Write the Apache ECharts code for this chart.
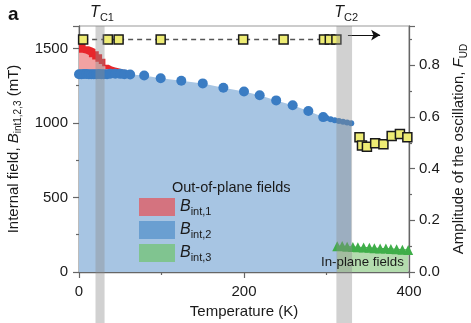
<!DOCTYPE html>
<html><head><meta charset="utf-8">
<script src="https://cdn.jsdelivr.net/npm/echarts@6/dist/echarts.min.js"></script>
<style>html,body{margin:0;padding:0;background:#fff}#c{width:471px;height:323px}</style>
</head><body><div id="c"></div>
<script>
// ---- data ----
const T_red = [0, 4, 8, 12, 16, 20, 24, 28, 32, 36, 40, 44, 48, 52, 56];
const B_red_hi = [1535, 1535, 1515, 1505, 1495, 1480, 1460, 1430, 1390, 1378, 1372, 1366, 1360, 1355, 1350];
const B_red_lo = [1470, 1465, 1455, 1440, 1425, 1410, 1395, 1380, 1362, 1350, 1344, 1340, 1336, 1333, 1330];

const T_blue = [0, 3, 6, 9, 12, 15, 18, 21, 24, 27, 30, 34, 38, 44, 50, 55, 62, 79, 99, 124, 150, 175, 200, 219, 239, 259, 278, 296, 300, 305, 310, 315, 320, 325, 330];
const B_blue = [1326, 1327, 1328, 1328, 1327, 1327, 1327, 1327, 1328, 1327, 1326, 1327, 1330, 1330, 1329, 1327, 1325, 1318, 1300, 1283, 1265, 1236, 1211, 1185, 1151, 1118, 1080, 1039, 1033, 1025, 1018, 1012, 1007, 1002, 997];

const T_green = [313, 319, 325, 332, 338, 345, 352, 358, 365, 372, 378, 385, 392, 399];
const B_green = [172, 175, 170, 168, 166, 165, 162, 160, 158, 157, 155, 153, 150, 148];

const T_F1 = [5, 35, 48, 99, 199, 248, 297, 304, 312];
const F_F1 = [0.9, 0.9, 0.9, 0.9, 0.9, 0.9, 0.9, 0.9, 0.9];
const T_F2 = [340, 343, 349, 359, 369, 379, 389, 398];
const F_F2 = [0.521, 0.49, 0.485, 0.498, 0.494, 0.526, 0.534, 0.521];

const bands = [[20, 31, 'C1'], [312, 331, 'C2']];
const arrowT = [326, 365];
const arrowF = 0.917;

const zip = (a, b) => a.map((v, i) => [v, b[i]]);
const FONT = 'Liberation Sans';
const sub = {
  b: {fontStyle: 'italic', fontSize: 15, fontFamily: FONT, color: '#1a1a1a', lineHeight: 20, verticalAlign: 'middle'},
  s: {fontSize: 10, fontFamily: FONT, color: '#1a1a1a', lineHeight: 10, verticalAlign: 'bottom'},
  n: {fontSize: 15, fontFamily: FONT, color: '#1a1a1a', lineHeight: 20, verticalAlign: 'middle'}
};

const chart = echarts.init(document.getElementById('c'), null, {renderer: 'canvas'});
const axisCommon = {
  axisLine: {show: true, lineStyle: {color: '#666', width: 1.3}},
  axisTick: {show: true, inside: false, length: 6, lineStyle: {color: '#666', width: 1.2}},
  minorTick: {show: true, splitNumber: 2, length: 3, lineStyle: {color: '#666', width: 1.2}},
  splitLine: {show: false},
  axisLabel: {fontFamily: FONT, fontSize: 15, color: '#1a1a1a'}
};

chart.setOption({
  animation: false,
  grid: [
    {left: 79, right: 62, top: 26, bottom: 51, containLabel: false, outerBoundsMode: 'none',
     show: true, borderColor: '#999', borderWidth: 1, backgroundColor: 'transparent'},
    {left: 79, right: 62, top: 26, bottom: 0, containLabel: false, outerBoundsMode: 'none', show: false}
  ],
  xAxis: [
    Object.assign({}, axisCommon, {
      gridIndex: 0, type: 'value', min: 0, max: 400, interval: 200,
      name: 'Temperature (K)', nameLocation: 'middle', nameGap: 27,
      nameTextStyle: {fontFamily: FONT, fontSize: 15, color: '#1a1a1a'},
      axisLabel: Object.assign({}, axisCommon.axisLabel, {margin: 12, formatter: v => String(v)})
    }),
    {gridIndex: 1, type: 'value', min: 0, max: 400, show: false}
  ],
  yAxis: [
    Object.assign({}, axisCommon, {
      gridIndex: 0, type: 'value', min: 0, max: 1650, interval: 500, position: 'left',
      axisLabel: Object.assign({}, axisCommon.axisLabel, {margin: 11, showMaxLabel: false, formatter: v => String(v)}),
      name: '{n|Internal field, }{b|B}{s|int1,2,3}{n| (mT)}', nameLocation: 'middle', nameGap: 50, nameRotate: 90,
      nameTextStyle: {rich: sub}
    }),
    Object.assign({}, axisCommon, {
      gridIndex: 0, type: 'value', min: 0, max: 0.952, interval: 0.2, position: 'right',
      axisLabel: Object.assign({}, axisCommon.axisLabel, {margin: 10, showMaxLabel: false, formatter: v => v.toFixed(1)}),
      name: '{n|Amplitude of the oscillation, }{b|F}{s|UD}', nameLocation: 'middle', nameGap: 40, nameRotate: 90,
      nameTextStyle: {rich: sub}
    }),
    {gridIndex: 1, type: 'value', min: 0, max: 1, show: false}
  ],
  legend: {
    left: 134, top: 193, orient: 'vertical', itemWidth: 36, itemHeight: 18, itemGap: 4,
    icon: 'rect', selectedMode: false,
    itemStyle: {borderWidth: 0},
    data: [
      {name: 'B1', itemStyle: {color: '#d4737f'}},
      {name: 'B2', itemStyle: {color: '#6a9fd1'}},
      {name: 'B3', itemStyle: {color: '#80c490'}}
    ],
    formatter: n => ({B1: '{b|B}{s|int,1}', B2: '{b|B}{s|int,2}', B3: '{b|B}{s|int,3}'}[n]),
    textStyle: {rich: {
      b: {fontStyle: 'italic', fontSize: 16, fontFamily: FONT, color: '#1a1a1a', lineHeight: 20, verticalAlign: 'middle'},
      s: {fontSize: 11, fontFamily: FONT, color: '#1a1a1a', lineHeight: 11, verticalAlign: 'bottom'}
    }}
  },
  series: [
    {name: 'B1hi', type: 'line', xAxisIndex: 0, yAxisIndex: 0, data: zip(T_red, B_red_hi), step: 'end',
     symbol: 'none', lineStyle: {width: 0}, itemStyle: {color: '#e8262b'}, areaStyle: {color: '#e8262b', opacity: 1}},
    {name: 'B1', type: 'line', xAxisIndex: 0, yAxisIndex: 0, data: zip(T_red, B_red_lo), step: 'end',
     symbol: 'none', lineStyle: {width: 0}, itemStyle: {color: '#f2a2a2'}, areaStyle: {color: '#f2a2a2', opacity: 1}},
    {name: 'B2', type: 'line', xAxisIndex: 0, yAxisIndex: 0, data: zip(T_blue, B_blue),
     symbol: 'circle', showAllSymbol: true,
     symbolSize: v => (v[0] > 297 ? 6 : 10),
     lineStyle: {width: 0}, itemStyle: {color: '#3a7cc3'}, areaStyle: {color: '#a7c5e3', opacity: 1}},
    {name: 'B3', type: 'line', xAxisIndex: 0, yAxisIndex: 0, data: zip(T_green, B_green),
     symbol: 'triangle', symbolSize: 10, showAllSymbol: true,
     lineStyle: {width: 1, color: '#3fae49'}, itemStyle: {color: '#3fae49'}, areaStyle: {color: '#b3dcae', opacity: 1}},
    {name: 'F1', type: 'line', xAxisIndex: 0, yAxisIndex: 1, data: zip(T_F1, F_F1),
     symbol: 'rect', symbolSize: 9, showAllSymbol: true,
     lineStyle: {color: '#555', width: 1.5, type: [5, 4]},
     itemStyle: {color: '#eeec74', borderColor: '#1a1a1a', borderWidth: 1.5},
     markLine: {silent: true, symbol: ['none', 'arrow'], symbolSize: [8, 9], label: {show: false},
       lineStyle: {color: '#111', width: 1, type: 'solid'},
       data: [[{coord: [arrowT[0], arrowF]}, {coord: [arrowT[1], arrowF]}]]}},
    {name: 'F2', type: 'line', xAxisIndex: 0, yAxisIndex: 1, data: zip(T_F2, F_F2),
     symbol: 'rect', symbolSize: 9, showAllSymbol: true,
     lineStyle: {color: '#222', width: 1},
     itemStyle: {color: '#eeec74', borderColor: '#1a1a1a', borderWidth: 1.5}},
    {name: 'bands', type: 'custom', xAxisIndex: 1, yAxisIndex: 2, z: 20, data: bands,
     renderItem: (params, api) => {
       const p0 = api.coord([api.value(0), 1]);
       const p1 = api.coord([api.value(1), 0]);
       const mid = api.coord([(api.value(0) + api.value(1)) / 2, 1]);
       return {type: 'group', children: [
         {type: 'rect', shape: {x: p0[0], y: p0[1], width: p1[0] - p0[0], height: p1[1] - p0[1]},
          style: {fill: 'rgba(140,140,140,0.4)'}},
         {type: 'text', x: mid[0] + 2, y: p0[1] - 3,
          style: {text: '{i|T}{s|' + bands[params.dataIndex][2] + '}', align: 'center', verticalAlign: 'bottom',
            rich: {i: {fontStyle: 'italic', fontSize: 16, fontFamily: FONT, fill: '#1a1a1a', lineHeight: 20, verticalAlign: 'middle'},
                   s: {fontSize: 11, fontFamily: FONT, fill: '#1a1a1a', lineHeight: 11, verticalAlign: 'bottom'}}}}
       ]};
     }}
  ],
  graphic: [
    {type: 'text', left: 8, top: 5, z: 100, style: {text: 'a', font: 'bold 19px "Liberation Sans"', fill: '#111'}},
    {type: 'text', left: 172, top: 180, z: 100, style: {text: 'Out-of-plane fields', font: '14.5px "Liberation Sans"', fill: '#1a1a1a'}},
    {type: 'text', left: 321, top: 256, z: 100, style: {text: 'In-plane fields', font: '13.3px "Liberation Sans"', fill: '#1a1a1a'}}
  ]
});
</script>
</body></html>
